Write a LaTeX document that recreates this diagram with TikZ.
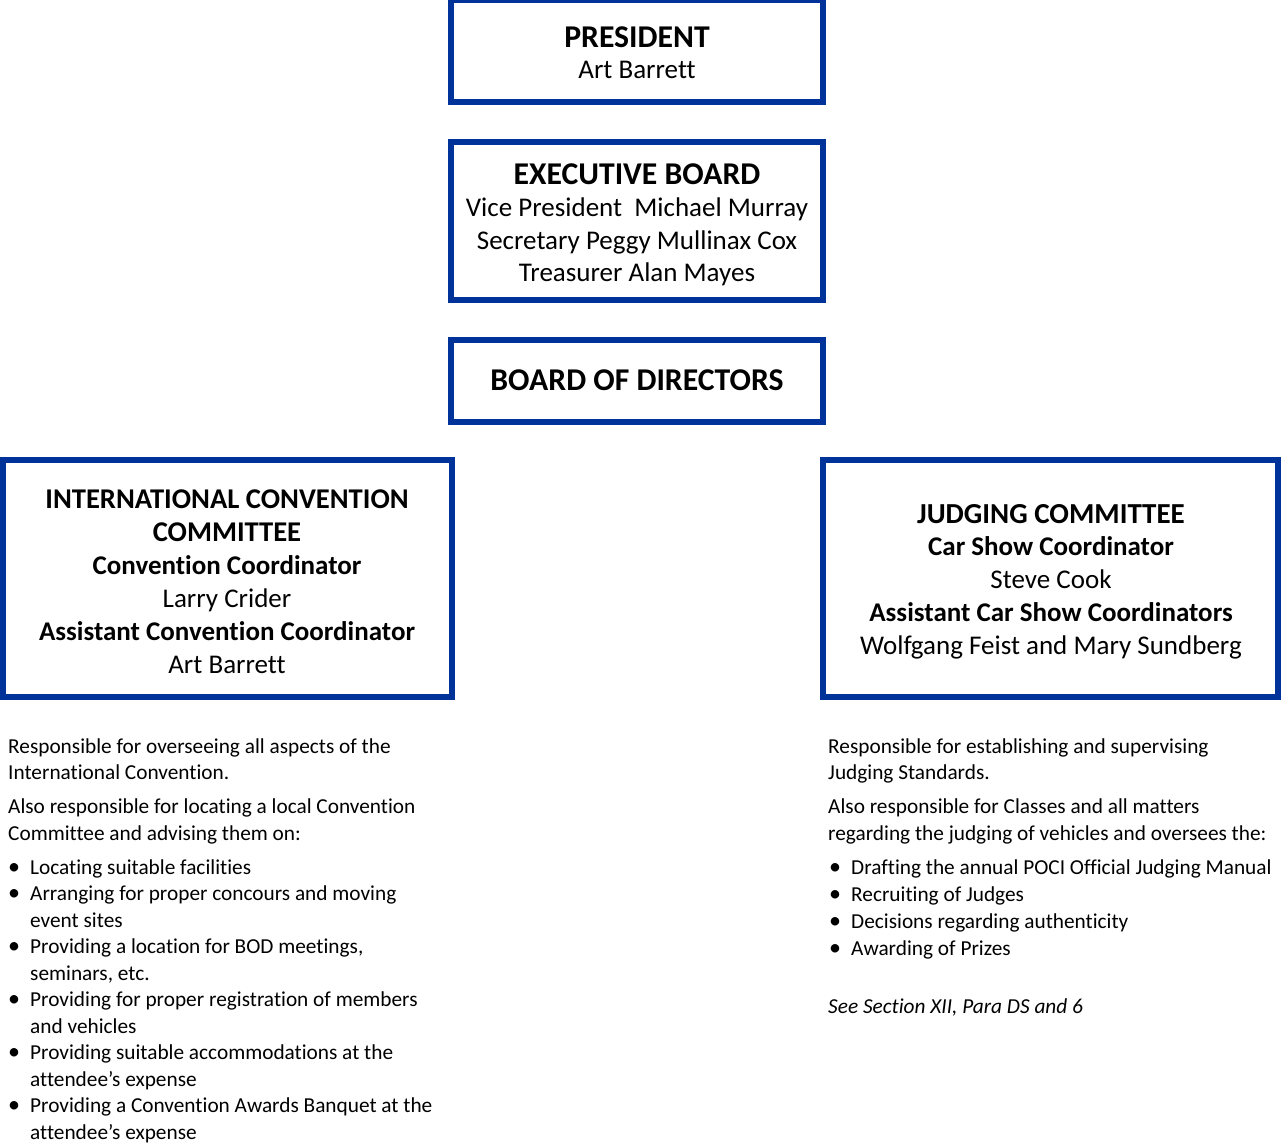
\documentclass[tikz,border=0pt]{standalone}
\usepackage{fontspec}
\setmainfont{Carlito}[Ligatures=NoCommon]
\definecolor{boxblue}{RGB}{0,51,153}
\newcommand\boxhead[1]{{\fontsize{31.7}{33}\selectfont\bfseries #1}}
\newcommand\subhead[1]{{\fontsize{29}{33}\selectfont\bfseries #1}}
\newcommand\bul{\llap{\makebox[22pt][l]{\fontsize{24}{26}\selectfont\textbullet}}}
\begin{document}
\begin{tikzpicture}[x=1pt,y=-1pt,
  orgbox/.style={draw=boxblue,line width=6pt,rectangle,inner sep=0pt,outer sep=0pt},
  boxtext/.style={anchor=base,align=center,inner sep=0pt,font=\fontsize{27}{33}\selectfont},
  desc/.style={anchor=base west,align=left,inner sep=0pt,font=\fontsize{21.3}{26.5}\selectfont},
]
\useasboundingbox (0,0) rectangle (1281,1143);
% boxes
\node[orgbox,minimum width=372pt,minimum height=102pt] (pres) at (637,51) {};
\node[orgbox,minimum width=372pt,minimum height=158pt] (exec) at (637,221) {};
\node[orgbox,minimum width=372pt,minimum height=82pt] (bod) at (637,381) {};
\node[orgbox,minimum width=449pt,minimum height=237pt] (intl) at (227.5,578.5) {};
\node[orgbox,minimum width=455pt,minimum height=237pt] (judg) at (1050.5,578.5) {};
% box texts (anchor = baseline of last line)
\node[boxtext,font=\fontsize{27}{31}\selectfont] (prest) at (637,78) {\boxhead{PRESIDENT}\\Art Barrett};
\node[boxtext,font=\fontsize{27}{32.5}\selectfont] (exect) at (637,281.5) {\boxhead{EXECUTIVE BOARD}\\Vice President\ \ Michael Murray\\Secretary Peggy Mullinax Cox\\Treasurer Alan Mayes};
\node[boxtext] (bodt) at (637,390) {\boxhead{BOARD OF DIRECTORS}};
\node[boxtext] (intlt) at (227,673) {{\fontsize{28.6}{33}\selectfont\bfseries INTERNATIONAL CONVENTION}\\{\fontsize{28.6}{33}\selectfont\bfseries COMMITTEE}\\\textbf{Convention Coordinator}\\Larry Crider\\\textbf{Assistant Convention Coordinator}\\Art Barrett};
\node[boxtext,font=\fontsize{27}{32.75}\selectfont] (judgt) at (1051,654) {\subhead{JUDGING COMMITTEE}\\\textbf{Car Show Coordinator}\\Steve Cook\\\textbf{Assistant Car Show Coordinators}\\Wolfgang Feist and Mary Sundberg};
% left description
\node[desc] (ldesc) at (8,840) {Responsible for overseeing all aspects of the\\International Convention.\\[7.5pt]Also responsible for locating a local Convention\\Committee and advising them on:};
\node[desc] (llist) at (30,1139) {\bul Locating suitable facilities\\
\bul Arranging for proper concours and moving\\event sites\\
\bul Providing a location for BOD meetings,\\seminars, etc.\\
\bul Providing for proper registration of members\\and vehicles\\
\bul Providing suitable accommodations at the\\attendee’s expense\\
\bul Providing a Convention Awards Banquet at the\\attendee’s expense};
% right description
\node[desc] (rdesc) at (828,840) {Responsible for establishing and supervising\\Judging Standards.\\[7.5pt]Also responsible for Classes and all matters\\regarding the judging of vehicles and oversees the:};
\node[desc,font=\fontsize{21.3}{27}\selectfont] (rlist) at (851,955) {\bul Drafting the annual POCI Official Judging Manual\\
\bul Recruiting of Judges\\
\bul Decisions regarding authenticity\\
\bul Awarding of Prizes};
\node[desc] (rsee) at (828,1013) {\itshape See Section XII, Para DS and 6};
\end{tikzpicture}
\end{document}
